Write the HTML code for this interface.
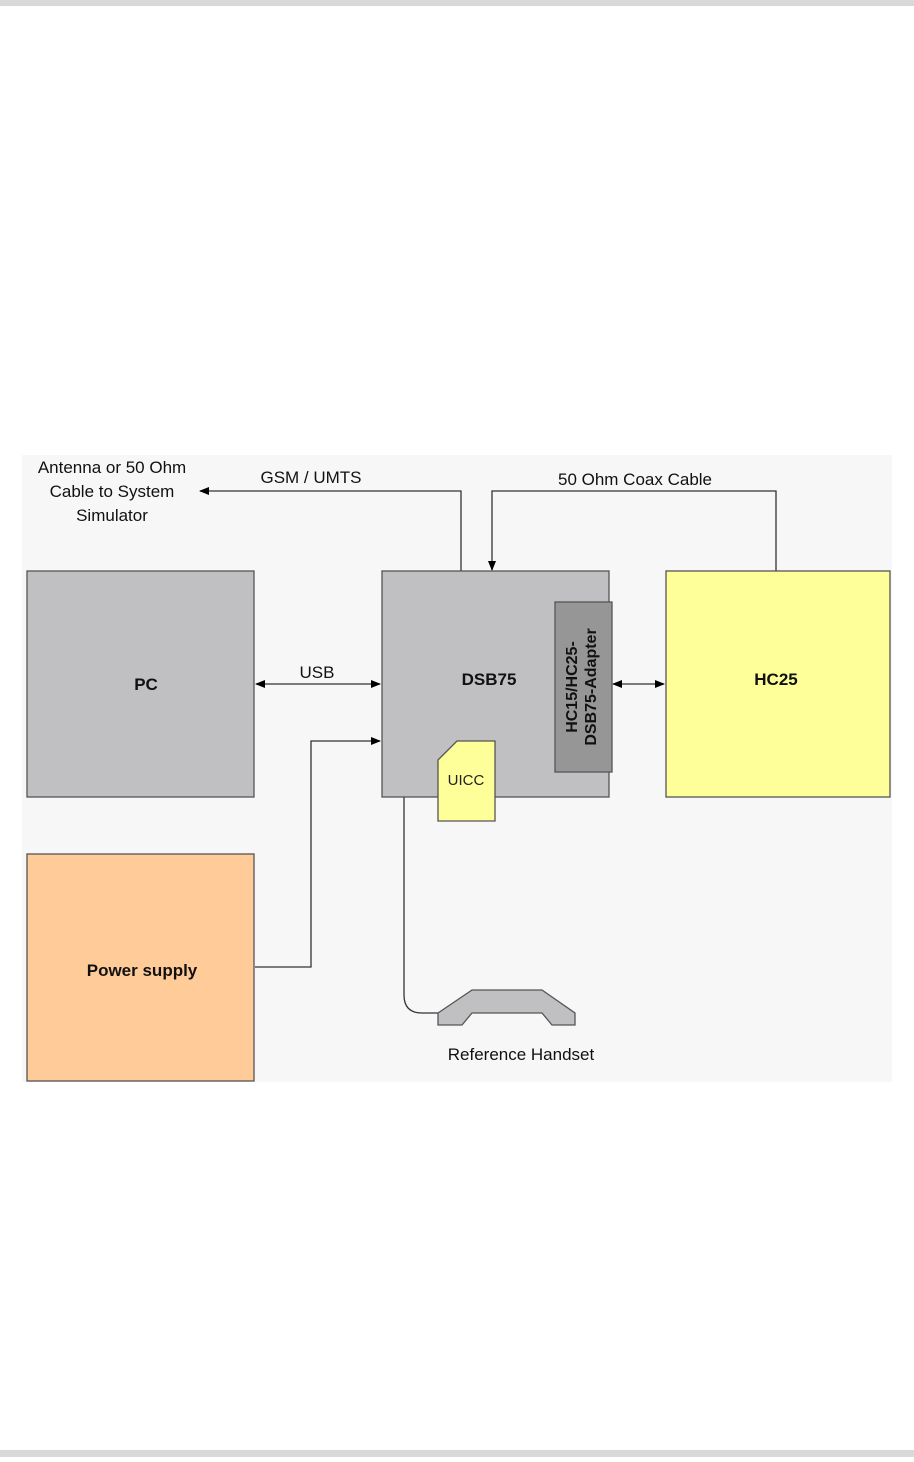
<!DOCTYPE html>
<html><head><style>
body{margin:0;width:914px;height:1457px;background:#fff;overflow:hidden}
svg text{font-family:"Liberation Sans",sans-serif}
</style></head><body>
<svg width="914" height="1457" viewBox="0 0 914 1457">
<defs><marker id="a" markerWidth="10" markerHeight="8" refX="9" refY="4" orient="auto-start-reverse" markerUnits="userSpaceOnUse"><path d="M0,0L10,4L0,8z" fill="#000"/></marker></defs>
<rect x="0" y="0" width="914" height="6" fill="#d9d9d9"/>
<rect x="0" y="1450" width="914" height="7" fill="#d9d9d9"/>
<rect x="22" y="455" width="870" height="627" fill="#f7f7f7"/>
<g stroke="#333" stroke-width="1.3" fill="none">
<path d="M461,571V491H200" marker-end="url(#a)"/>
<path d="M776,571V491H492V570" marker-end="url(#a)"/>
<path d="M256,684H380" marker-start="url(#a)" marker-end="url(#a)"/>
<path d="M613,684H664" marker-start="url(#a)" marker-end="url(#a)"/>
<path d="M255,967H311V741H380" marker-end="url(#a)"/>
<path d="M404,797V995Q404,1013 422,1013H440"/>
</g>
<g stroke="#555" stroke-width="1.3">
<rect x="27" y="571" width="227" height="226" fill="#c0bfc1"/>
<rect x="382" y="571" width="227" height="226" fill="#c0bfc1"/>
<rect x="666" y="571" width="224" height="226" fill="#ffff99"/>
<rect x="27" y="854" width="227" height="227" fill="#ffcc99"/>
<rect x="555" y="602" width="57" height="170" fill="#969696"/>
<path d="M438,760L457,741H495V821H438z" fill="#ffff99"/>
<path d="M438,1013L472,990H542L575,1013V1025H552L542,1013H472L462,1025H438z" fill="#c0bfc1"/>
</g>
<g font-size="17" fill="#111">
<text x="112" y="473" text-anchor="middle">Antenna or 50 Ohm</text>
<text x="112" y="497" text-anchor="middle">Cable to System</text>
<text x="112" y="521" text-anchor="middle">Simulator</text>
<text x="311" y="483" text-anchor="middle">GSM / UMTS</text>
<text x="635" y="485" text-anchor="middle">50 Ohm Coax Cable</text>
<text x="317" y="678" text-anchor="middle">USB</text>
<text x="521" y="1060" text-anchor="middle">Reference Handset</text>
</g>
<g font-size="17" font-weight="bold" fill="#111" text-anchor="middle">
<text x="146" y="690">PC</text>
<text x="489" y="685">DSB75</text>
<text x="776" y="685">HC25</text>
<text x="142" y="976">Power supply</text>
</g>
<text x="466" y="785" font-size="15" fill="#222" text-anchor="middle">UICC</text>
<g transform="translate(583,687) rotate(-90)" font-size="16" font-weight="bold" fill="#111" text-anchor="middle">
<text x="0" y="-6">HC15/HC25-</text>
<text x="0" y="13">DSB75-Adapter</text>
</g>
</svg>
</body></html>
